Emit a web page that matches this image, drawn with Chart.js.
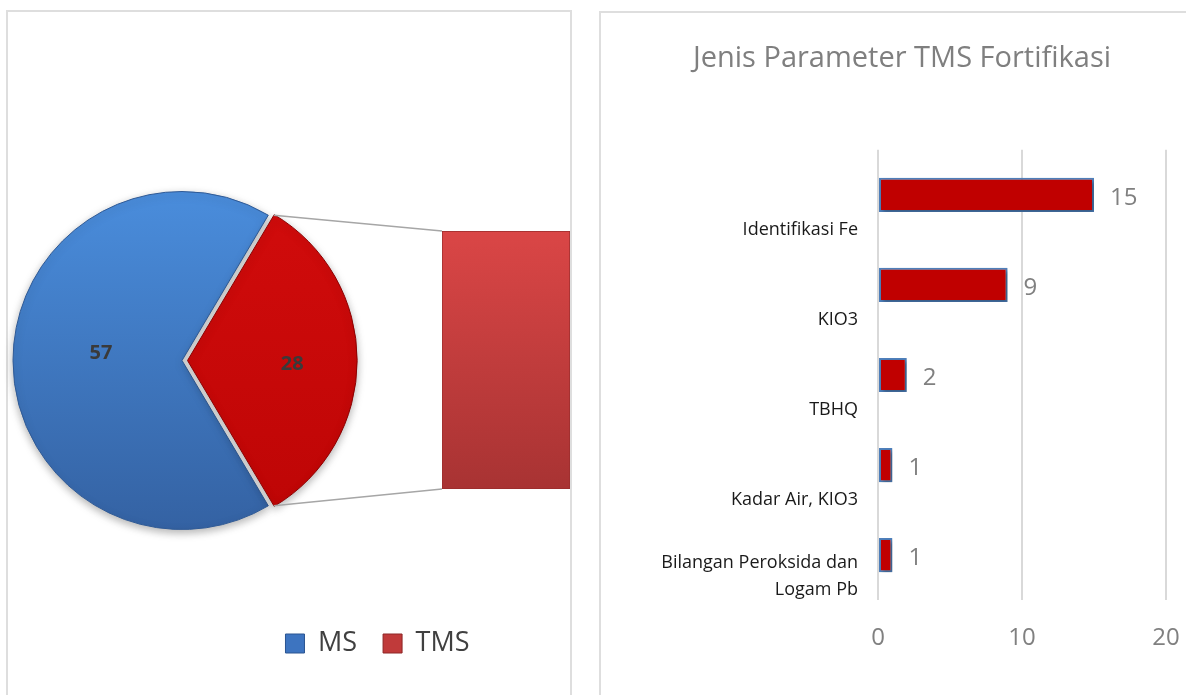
<!DOCTYPE html>
<html>
<head>
<meta charset="utf-8">
<script src="https://cdn.jsdelivr.net/npm/chart.js@4.4.0/dist/chart.umd.min.js"></script>
<style>
body { margin:0; background:#fff; width:1186px; height:695px; overflow:hidden; position:relative; }
.panel { position:absolute; border:2px solid #dedede; box-sizing:border-box; }
#leftPanel { left:6px; top:10px; width:566px; height:720px; }
#rightPanel { left:599px; top:11px; width:620px; height:720px; }
canvas { position:absolute; }
#pie { left:0; top:0; }
#stack { left:442px; top:231px; }
#bars { left:600px; top:12px; }
</style>
</head>
<body>
<div class="panel" id="leftPanel"></div>
<div class="panel" id="rightPanel"></div>
<canvas id="pie" width="600" height="695"></canvas>
<canvas id="stack" width="128" height="258"></canvas>
<canvas id="bars" width="586" height="683"></canvas>
<script>
// data
const pieLabels = ['MS', 'TMS'];
const pieValues = [57, 28];
const paramLabels = ['Identifikasi Fe', 'KIO3', 'TBHQ', 'Kadar Air, KIO3', ['Bilangan Peroksida dan', 'Logam Pb']];
const paramValues = [15, 9, 2, 1, 1];
const xTicks = [0, 10, 20];
const chartTitle = 'Jenis Parameter TMS Fortifikasi';

const FONT = "'Open Sans', sans-serif";
Chart.defaults.font.family = FONT;

const total = pieValues.reduce((a, b) => a + b, 0);
const PIE_R = 169;

// gradient for the pie slices
function pieFill(ctx) {
    const ch = ctx.chart;
    const a = ch.chartArea;
    if (!a) return ctx.dataIndex === 0 ? '#3f77c4' : '#c80a0a';
    const cy = (a.top + a.bottom) / 2;
    const g = ch.ctx.createLinearGradient(0, cy - PIE_R, 0, cy + PIE_R);
    if (ctx.dataIndex === 0) {
        g.addColorStop(0, '#4a8ddc');
        g.addColorStop(1, '#3462a3');
    } else {
        g.addColorStop(0, '#d20c0c');
        g.addColorStop(1, '#bd0505');
    }
    return g;
}

function stackFill(ctx) {
    const ch = ctx.chart;
    const a = ch.chartArea;
    if (!a) return '#c23c3c';
    const g = ch.ctx.createLinearGradient(0, a.top, 0, a.bottom);
    g.addColorStop(0, '#da4646');
    g.addColorStop(1, '#a83333');
    return g;
}

// secondary bar of the "bar of pie" (TMS)
const stackCanvas = document.getElementById('stack');
const stackChart = new Chart(stackCanvas, {
    type: 'bar',
    data: {
        labels: [pieLabels[1]],
        datasets: [{
            data: [pieValues[1]],
            backgroundColor: stackFill,
            borderColor: '#9a2c2c',
            borderWidth: 1,
            borderSkipped: false,
            barPercentage: 1,
            categoryPercentage: 1
        }]
    },
    options: {
        responsive: false,
        animation: false,
        layout: { padding: 0 },
        plugins: { legend: { display: false }, tooltip: { enabled: false } },
        scales: {
            x: { display: false },
            y: { display: false, min: 0, max: pieValues[1] }
        }
    }
});

const labelRatio = [0.48, 0.62];
const labelShift = [-7, 4];

const pieExtras = {
    id: 'pieExtras',
    beforeDatasetsDraw(chart) {
        const c = chart.ctx;
        c.save();
        c.shadowColor = 'rgba(0,0,0,0.3)';
        c.shadowBlur = 8;
        c.shadowOffsetY = 3;
    },
    afterDatasetsDraw(chart) {
        const c = chart.ctx;
        c.restore();
        const arcs = chart.getDatasetMeta(0).data;

        // connector lines to the secondary bar
        const tms = arcs[1];
        const off = (tms.options.offset || 0) / 4;
        const mid = (tms.startAngle + tms.endAngle) / 2;
        const ox = tms.x + Math.cos(mid) * off;
        const oy = tms.y + Math.sin(mid) * off;
        const R = tms.outerRadius;
        const bar = stackChart.getDatasetMeta(0).data[0];
        const pr = chart.canvas.getBoundingClientRect();
        const sr = stackCanvas.getBoundingClientRect();
        const bx = sr.left - pr.left + bar.x - bar.width / 2;
        const bTop = sr.top - pr.top + bar.y;
        const bBot = sr.top - pr.top + bar.base;
        c.save();
        c.strokeStyle = '#a6a6a6';
        c.lineWidth = 1.5;
        c.beginPath();
        c.moveTo(ox + Math.cos(tms.startAngle) * R, oy + Math.sin(tms.startAngle) * R);
        c.lineTo(bx, bTop);
        c.moveTo(ox + Math.cos(tms.endAngle) * R, oy + Math.sin(tms.endAngle) * R);
        c.lineTo(bx, bBot);
        c.stroke();

        // value labels
        c.font = 'bold 20px ' + FONT;
        c.fillStyle = '#3a3a3a';
        c.textAlign = 'center';
        c.textBaseline = 'middle';
        arcs.forEach((el, i) => {
            const o = (el.options.offset || 0) / 4;
            const m = (el.startAngle + el.endAngle) / 2;
            const r = el.outerRadius * labelRatio[i];
            const x = el.x + Math.cos(m) * (o + r);
            const y = el.y + Math.sin(m) * (o + r) + labelShift[i];
            c.fillText(String(pieValues[i]), x, y);
        });
        c.restore();
    },
    afterLayout(chart) {
        // legend sits under the whole figure, not only under the pie
        const lg = chart.legend;
        const h = lg.height;
        lg.left = 179;
        lg.right = 576;
        lg.top = 604;
        lg.bottom = lg.top + h;
        lg.width = lg.right - lg.left;
    }
};

const legendFill = ['#3d74c0', '#c03a3a'];
const legendStroke = ['#2b5591', '#8e2626'];

const pieChart = new Chart(document.getElementById('pie'), {
    type: 'pie',
    data: {
        labels: pieLabels,
        datasets: [{
            data: pieValues,
            backgroundColor: pieFill,
            borderColor: ['#2f5a96', '#8c0000'],
            borderWidth: 1,
            offset: [0, 22]
        }]
    },
    options: {
        responsive: false,
        animation: false,
        rotation: 90 + 180 * pieValues[1] / total,
        radius: PIE_R,
        layout: { padding: { left: 5, right: 241, top: 102, bottom: 13 } },
        plugins: {
            tooltip: { enabled: false },
            legend: {
                position: 'bottom',
                labels: {
                    font: { size: 27 },
                    color: '#404040',
                    boxWidth: 19,
                    boxHeight: 19,
                    padding: 26,
                    generateLabels(chart) {
                        const base = Chart.overrides.doughnut.plugins.legend.labels.generateLabels(chart);
                        return base.map((l, i) => Object.assign(l, {
                            fillStyle: legendFill[i], strokeStyle: legendStroke[i], lineWidth: 1
                        }));
                    }
                }
            }
        }
    },
    plugins: [pieExtras]
});

// right chart: horizontal bars
const barExtras = {
    id: 'barExtras',
    beforeDatasetsDraw(chart) {
        const c = chart.ctx;
        c.save();
        c.shadowColor = 'rgba(0,0,0,0.35)';
        c.shadowBlur = 4;
        c.shadowOffsetX = 2;
        c.shadowOffsetY = 2;
    },
    afterDatasetsDraw(chart) {
        const c = chart.ctx;
        c.restore();
        c.save();
        c.font = '24px ' + FONT;
        c.fillStyle = '#808080';
        c.textAlign = 'left';
        c.textBaseline = 'middle';
        chart.getDatasetMeta(0).data.forEach((el, i) => {
            c.fillText(String(paramValues[i]), el.x + 16, el.y + 3);
        });
        c.restore();
    }
};

const barChart = new Chart(document.getElementById('bars'), {
    type: 'bar',
    data: {
        labels: paramLabels,
        datasets: [{
            data: paramValues,
            backgroundColor: '#c00000',
            borderColor: '#4f81bd',
            borderWidth: 2,
            borderSkipped: false,
            barPercentage: 0.38,
            categoryPercentage: 1
        }]
    },
    options: {
        indexAxis: 'y',
        responsive: false,
        animation: false,
        layout: { padding: { left: 38, right: 20, top: 0, bottom: 18 } },
        plugins: {
            legend: { display: false },
            tooltip: { enabled: false },
            title: {
                display: true,
                text: chartTitle,
                color: '#7f7f7f',
                font: { size: 29, weight: 'normal', lineHeight: 1.2 },
                padding: { top: 29, bottom: 74 }
            }
        },
        scales: {
            x: {
                min: xTicks[0],
                max: xTicks[xTicks.length - 1],
                ticks: { stepSize: xTicks[1] - xTicks[0], color: '#808080', font: { size: 24, lineHeight: 1.2 }, padding: 24 },
                grid: { color: '#d9d9d9', lineWidth: 2, drawTicks: false },
                border: { display: false },
                afterFit(scale) { scale.paddingLeft = 0; scale.paddingRight = 0; }
            },
            y: {
                grid: { display: false, drawTicks: false },
                border: { display: false },
                ticks: {
                    color: '#1a1a1a',
                    font: { size: 18, lineHeight: 1.5 },
                    padding: 20,
                    labelOffset: 35,
                    callback(value) {
                        const l = this.getLabelForValue(value);
                        // wrapped labels hang from the same baseline as the single-line ones
                        return Array.isArray(l) ? l.concat(['']) : l;
                    }
                },
                afterFit(scale) {
                    scale.width = 240;
                    scale.paddingTop = 0;
                    scale.paddingBottom = 0;
                }
            }
        }
    },
    plugins: [barExtras]
});
</script>
</body>
</html>
